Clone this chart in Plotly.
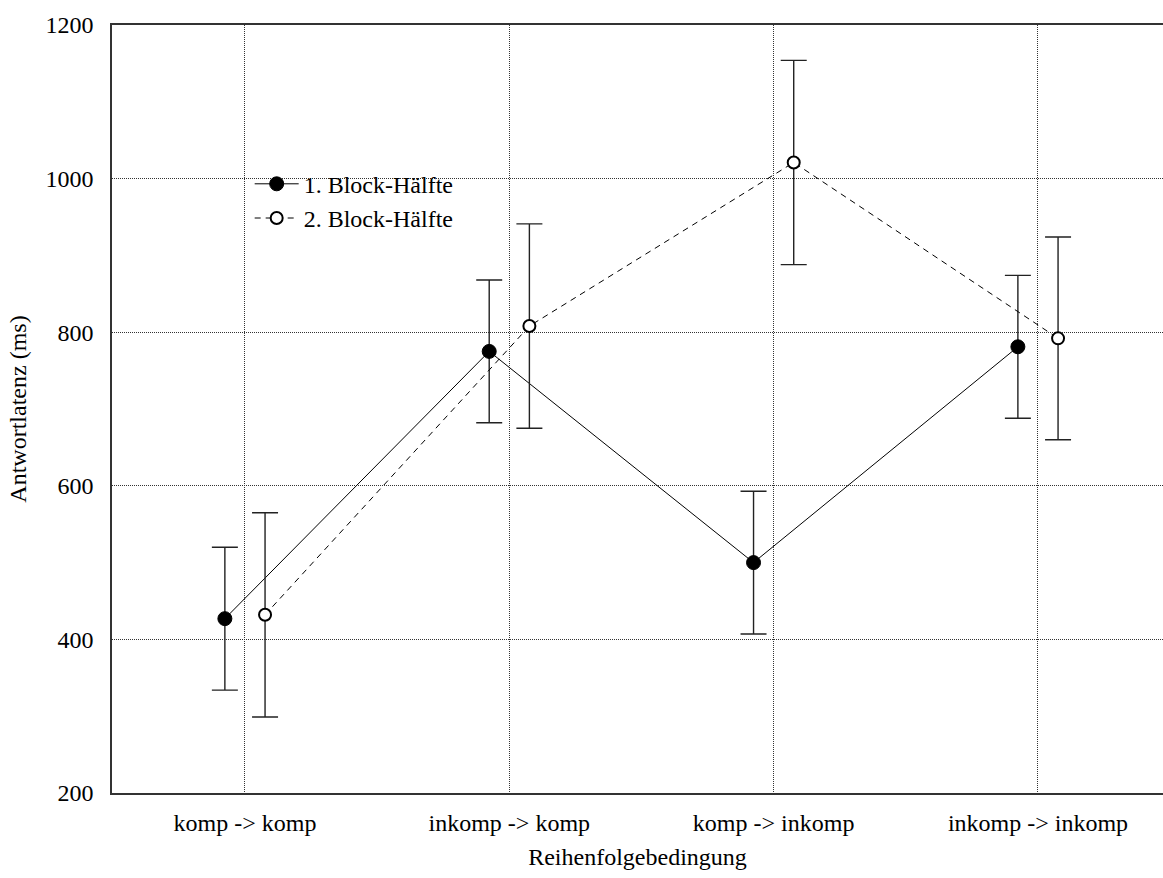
import plotly.graph_objects as go

# Conditions (order of trial types)
categories = ["komp -> komp", "inkomp -> komp", "komp -> inkomp", "inkomp -> inkomp"]

# Mean response latencies (ms) and error-bar half widths
half1_mean = [427, 775, 500, 781]
half1_err = [93, 93, 93, 93]
half2_mean = [432, 808, 1021, 792]
half2_err = [133, 133, 133, 132]

series_names = ["1. Block-Hälfte", "2. Block-Hälfte"]
y_ticks = [200, 400, 600, 800, 1000, 1200]

FONT = "Liberation Serif, Times New Roman, serif"
FS = 24
shift = 0.076  # horizontal dodge of the two series around each category

idx = list(range(len(categories)))
x1 = [i - shift for i in idx]
x2 = [i + shift for i in idx]

fig = go.Figure()

fig.add_trace(go.Scatter(
    x=x1, y=half1_mean, name=series_names[0], mode="lines+markers",
    line=dict(color="black", width=1),
    marker=dict(symbol="circle", size=14, color="black", line=dict(color="black", width=1)),
    error_y=dict(type="data", array=half1_err, visible=True, color="#222",
                 thickness=1.4, width=13),
))

fig.add_trace(go.Scatter(
    x=x2, y=half2_mean, name=series_names[1], mode="lines+markers",
    line=dict(color="black", width=1, dash="6px,5px"),
    marker=dict(symbol="circle", size=12, color="white", line=dict(color="black", width=2)),
    error_y=dict(type="data", array=half2_err, visible=True, color="#222",
                 thickness=1.4, width=13),
))

fig.update_layout(
    width=1163, height=878,
    margin=dict(l=112, r=0, t=25, b=85),
    paper_bgcolor="white", plot_bgcolor="white",
    font=dict(family=FONT, size=FS, color="black"),
    showlegend=True,
    legend=dict(x=0.131, y=0.822, xanchor="left", yanchor="top",
                bgcolor="rgba(0,0,0,0)", font=dict(family=FONT, size=FS),
                itemwidth=44, tracegroupgap=0),
)

fig.update_xaxes(
    range=[-0.503, 3.473],
    tickmode="array", tickvals=idx, ticktext=categories,
    tickfont=dict(family=FONT, size=FS),
    showgrid=True, gridcolor="#333", griddash="1px,1px", gridwidth=1,
    showline=True, linecolor="#333", linewidth=1.5, mirror=True,
    ticks="", ticklabelstandoff=7, zeroline=False,
    title=dict(text="Reihenfolgebedingung", font=dict(family=FONT, size=FS), standoff=14),
)

fig.update_yaxes(
    range=[200, 1200],
    tickmode="array", tickvals=y_ticks,
    tickfont=dict(family=FONT, size=FS),
    showgrid=True, gridcolor="#333", griddash="1px,1px", gridwidth=1,
    showline=True, linecolor="#333", linewidth=1.5,
    ticks="", ticklabelstandoff=12, zeroline=False,
    title=dict(text="Antwortlatenz (ms)", font=dict(family=FONT, size=FS), standoff=12),
)

fig.write_html("out.html")
